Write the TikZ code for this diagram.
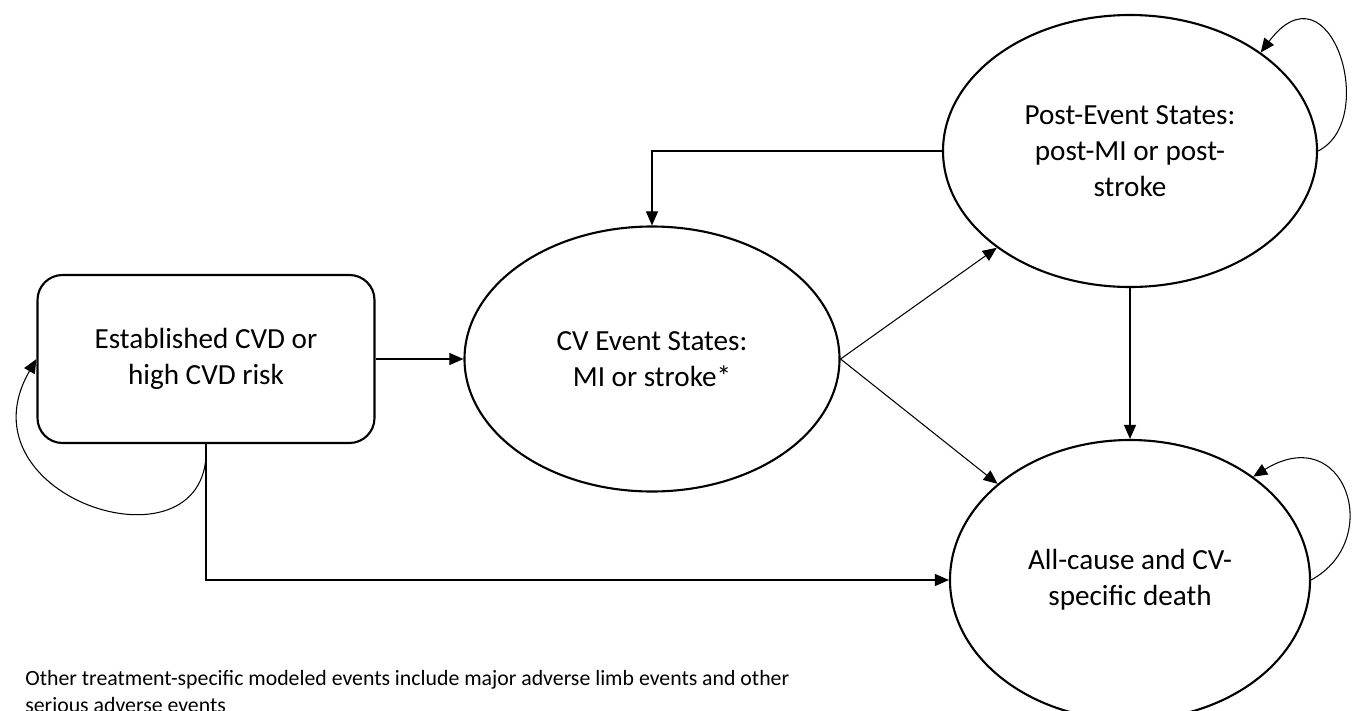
\documentclass[tikz,border=0pt]{standalone}
\usepackage{fontspec}
\setmainfont{Carlito}
\usetikzlibrary{shapes.geometric, arrows.meta}
\tikzstyle{state} = [rectangle, rounded corners=0.5cm, minimum width=6.74cm, minimum height=3.36cm, text centered, draw=black, line width=1.2pt, font=\fontsize{16.6}{20.4}\selectfont]
\tikzstyle{event} = [ellipse, inner sep=0pt, minimum width=7.5cm, minimum height=5.3cm, text centered, draw=black, line width=1.2pt, font=\fontsize{16.6}{20.4}\selectfont]
\tikzstyle{1} = [line width=0.6pt,-{Triangle[length=0.28cm,width=0.24cm]}]
\begin{document}
\begin{tikzpicture}[node distance=2cm]
\useasboundingbox (0,0) rectangle (27.08,-14.2);

\node (cvd) [state, align=flush center] at (4.12,-7.18) {Established CVD or\\high CVD risk};
\node (cv_event) [event, align=flush center, right of=cvd, xshift=6.92cm] {CV Event States:\\MI or stroke*};
\node (post_event) [event, align=flush center, right of=cv_event, xshift=7.56cm, yshift=4.16cm, minimum width=7.48cm, minimum height=5.44cm] {Post-Event States:\\post-MI or post-\\stroke};
\node (death) [event, align=flush center, below of=post_event, yshift=-6.58cm, minimum width=7.2cm, minimum height=5.6cm] {All-cause and CV-\\specific death};

\node (note) [anchor=base west, align=left, inner sep=0pt, font=\fontsize{12.4}{15.2}\selectfont] at (0.5,-14.24) {Other treatment-specific modeled events include major adverse limb events and other\\serious adverse events};

\draw [1] (cvd) -- (cv_event);
\draw [1] (cv_event.east) -- (post_event.216);
\draw [1] (cv_event.east) -- (death.144);
\draw [1] (post_event.west) -| (cv_event.north);
\draw [1] (post_event) -- (death);
\draw [1] (cvd.south) |- (death.west);

\draw [1] (cvd.south) .. controls (4.3,-11.6) and (-0.9,-10.0) .. (cvd.west);
\draw [1] (post_event.east) .. controls (27.6,-2.4) and (26.6,0.8) .. (post_event.37);
\draw [1] (death.east) .. controls (27.7,-10.8) and (26.9,-8.4) .. (death.40);

\end{tikzpicture}
\end{document}
